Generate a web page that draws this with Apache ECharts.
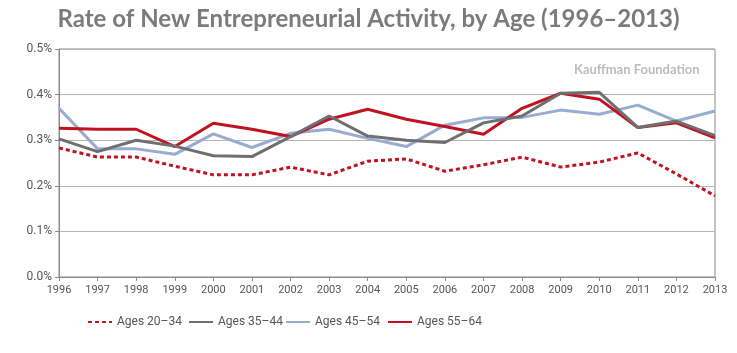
<!DOCTYPE html>
<html><head><meta charset="utf-8">
<script src="https://cdn.jsdelivr.net/npm/echarts@6/dist/echarts.min.js"></script>
<style>html,body{margin:0;padding:0;background:#fff}#c{width:737px;height:353px}</style>
</head><body><div id="c"></div>
<script>
const years = ['1996','1997','1998','1999','2000','2001','2002','2003','2004','2005','2006','2007','2008','2009','2010','2011','2012','2013'];
const ages2034 = [0.283,0.263,0.263,0.243,0.224,0.224,0.241,0.224,0.254,0.259,0.232,0.246,0.263,0.241,0.252,0.272,0.226,0.178];
const ages3544 = [0.303,0.275,0.300,0.287,0.266,0.264,0.308,0.353,0.309,0.300,0.295,0.338,0.353,0.403,0.405,0.328,0.342,0.310];
const ages4554 = [0.370,0.281,0.281,0.269,0.314,0.284,0.315,0.324,0.304,0.286,0.333,0.349,0.350,0.366,0.357,0.377,0.342,0.364];
const ages5564 = [0.326,0.324,0.324,0.286,0.337,0.324,0.308,0.346,0.368,0.346,0.330,0.313,0.370,0.403,0.390,0.328,0.338,0.305];
const names = ['Ages 20–34','Ages 35–44','Ages 45–54','Ages 55–64'];
const yTicks = [0,0.1,0.2,0.3,0.4,0.5];

const NARROW = 'Roboto';
const RED = '#C1121F', GRAY = '#6E6F72', BLUE = '#98ACD0';
const chart = echarts.init(document.getElementById('c'), null, {renderer:'canvas'});
const legendText = {color:'#555', fontFamily:NARROW, fontSize:12};
function lg(name, left){
  return {data:[name], left:left, top:316, padding:0, itemWidth:24, itemHeight:4, itemGap:0, textStyle:legendText, selectedMode:false, itemStyle:{opacity:0}};
}
chart.setOption({
  animation:false,
  title:[{text:'Rate of New Entrepreneurial Activity, by Age (1996–2013)', left:'center', top:2,
    textStyle:{color:'#7b7b7b', fontFamily:'Lato', fontWeight:'bold', fontSize:24}},
    {text:'Kauffman Foundation', left:569, top:58, textStyle:{color:'#bcbcbc', fontFamily:'Lato', fontWeight:'bold', fontSize:13}}],
  legend:[lg(names[0],87), lg(names[1],188), lg(names[2],285), lg(names[3],387)],
  grid:{left:59, right:22, top:49, bottom:76, show:true, borderColor:'#8a8a8a', borderWidth:1},
  xAxis:{type:'category', data:years, boundaryGap:false,
    axisLine:{lineStyle:{color:'#8a8a8a'}},
    axisTick:{show:true, length:4, lineStyle:{color:'#8a8a8a'}},
    axisLabel:{color:'#555', fontFamily:NARROW, fontSize:11, margin:8, interval:0}},
  yAxis:{type:'value', min:0, max:0.5, interval:0.1,
    axisLine:{show:true, lineStyle:{color:'#8a8a8a'}},
    axisTick:{show:true, length:4, lineStyle:{color:'#8a8a8a'}},
    splitLine:{lineStyle:{color:'#b5b5b5'}},
    axisLabel:{color:'#555', fontFamily:NARROW, fontSize:12, margin:7, formatter:v=>v.toFixed(1)+'%'}},
  series:[
    {name:names[2], type:'line', data:ages4554, symbol:'none', z:2, lineStyle:{color:BLUE, width:3}, itemStyle:{color:BLUE}},
    {name:names[3], type:'line', data:ages5564, symbol:'none', z:3, lineStyle:{color:RED, width:3}, itemStyle:{color:RED}},
    {name:names[1], type:'line', data:ages3544, symbol:'none', z:4, lineStyle:{color:GRAY, width:3}, itemStyle:{color:GRAY}},
    {name:names[0], type:'line', data:ages2034, symbol:'none', z:5, lineStyle:{color:RED, width:3, type:[4,3]}, itemStyle:{color:RED}}
  ]
});
</script></body></html>
